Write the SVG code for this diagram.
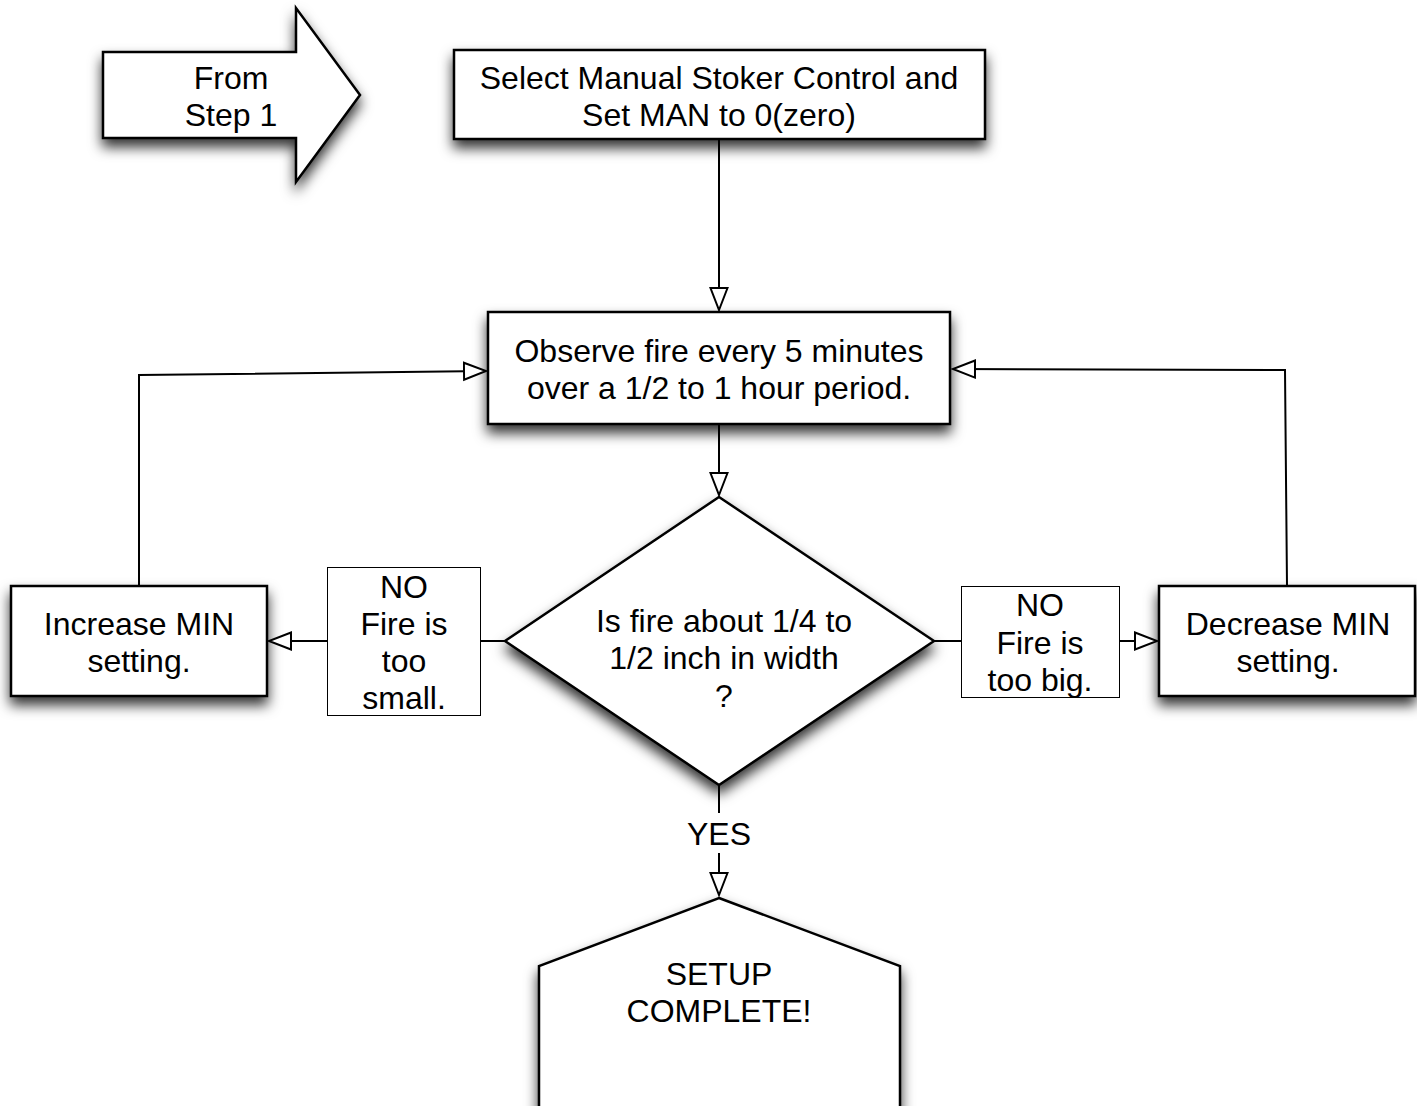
<svg xmlns="http://www.w3.org/2000/svg" width="1417" height="1106" viewBox="0 0 1417 1106">
  <defs>
    <filter id="shadow" x="-20%" y="-20%" width="140%" height="150%">
      <feDropShadow dx="0" dy="8" stdDeviation="6.5" flood-color="#000" flood-opacity="0.8"/>
    </filter>
    <marker id="open" markerUnits="userSpaceOnUse" markerWidth="26" markerHeight="22" refX="23" refY="10" orient="auto" viewBox="0 0 26 20">
      <path d="M1,1.5 L23,10 L1,18.5 Z" fill="#fff" stroke="#000" stroke-width="2"/>
    </marker>
    <style>
      .node { fill: #fff; stroke: #000; stroke-width: 2.5; filter: url(#shadow); }
      .tag { fill: #fff; stroke: #000; stroke-width: 1; }
      .t { font-family: "Liberation Sans", Arial, sans-serif; font-size: 32px; fill: #000; text-anchor: middle; }
      .edge { fill: none; stroke: #000; stroke-width: 2; }
      .arr { marker-end: url(#open); }
    </style>
  </defs>

  <!-- nodes -->
  <g id="from-step1">
    <path class="node" d="M103,52 L296,52 L296,8 L360,95 L296,182 L296,138 L103,138 Z"/>
    <text class="t" x="231" y="89">From</text>
    <text class="t" x="231" y="126">Step 1</text>
  </g>

  <g id="select-manual">
    <rect class="node" x="454" y="50" width="531" height="89"/>
    <text class="t" x="719" y="89">Select Manual Stoker Control and</text>
    <text class="t" x="719" y="126">Set MAN to 0(zero)</text>
  </g>

  <g id="observe">
    <rect class="node" x="488" y="312" width="462" height="112"/>
    <text class="t" x="719" y="362">Observe fire every 5 minutes</text>
    <text class="t" x="719" y="399">over a 1/2 to 1 hour period.</text>
  </g>

  <g id="decision">
    <path class="node" d="M719,497 L934,641 L719,785 L505,641 Z"/>
    <text class="t" x="724" y="632">Is fire about 1/4 to</text>
    <text class="t" x="724" y="669">1/2 inch in width</text>
    <text class="t" x="724" y="707">?</text>
  </g>

  <g id="increase">
    <rect class="node" x="11" y="586" width="256" height="110"/>
    <text class="t" x="139" y="635">Increase MIN</text>
    <text class="t" x="139" y="672">setting.</text>
  </g>

  <g id="decrease">
    <rect class="node" x="1159" y="586" width="256" height="110"/>
    <text class="t" x="1288" y="635">Decrease MIN</text>
    <text class="t" x="1288" y="672">setting.</text>
  </g>

  <g id="complete">
    <path class="node" d="M719,898 L900,966 L900,1120 L539,1120 L539,966 Z"/>
    <text class="t" x="719" y="985">SETUP</text>
    <text class="t" x="719" y="1022">COMPLETE!</text>
  </g>

  <!-- connectors -->
  <g id="connectors">
    <line class="edge arr" x1="719" y1="139" x2="719" y2="310"/>
    <line class="edge arr" x1="719" y1="424" x2="719" y2="495"/>
    <!-- too small branch -->
    <line class="edge" x1="505" y1="641" x2="480" y2="641"/>
    <line class="edge arr" x1="327" y1="641" x2="269" y2="641"/>
    <polyline class="edge arr" points="139,586 139,375 486,371"/>
    <!-- too big branch -->
    <line class="edge" x1="934" y1="641" x2="961" y2="641"/>
    <line class="edge arr" x1="1119" y1="641" x2="1157" y2="641"/>
    <polyline class="edge arr" points="1287,586 1285,370 953,369"/>
    <!-- yes branch -->
    <line class="edge" x1="719" y1="785" x2="719" y2="813"/>
    <line class="edge arr" x1="719" y1="853" x2="719" y2="895"/>
  </g>

  <!-- branch labels -->
  <g id="label-small">
    <rect class="tag" x="327.5" y="567.5" width="153" height="148"/>
    <text class="t" x="404" y="598">NO</text>
    <text class="t" x="404" y="635">Fire is</text>
    <text class="t" x="404" y="672">too</text>
    <text class="t" x="404" y="709">small.</text>
  </g>
  <g id="label-big">
    <rect class="tag" x="961.5" y="586.5" width="158" height="111"/>
    <text class="t" x="1040" y="616">NO</text>
    <text class="t" x="1040" y="654">Fire is</text>
    <text class="t" x="1040" y="691">too big.</text>
  </g>
  <g id="label-yes">
    <text class="t" x="719" y="845">YES</text>
  </g>
</svg>
